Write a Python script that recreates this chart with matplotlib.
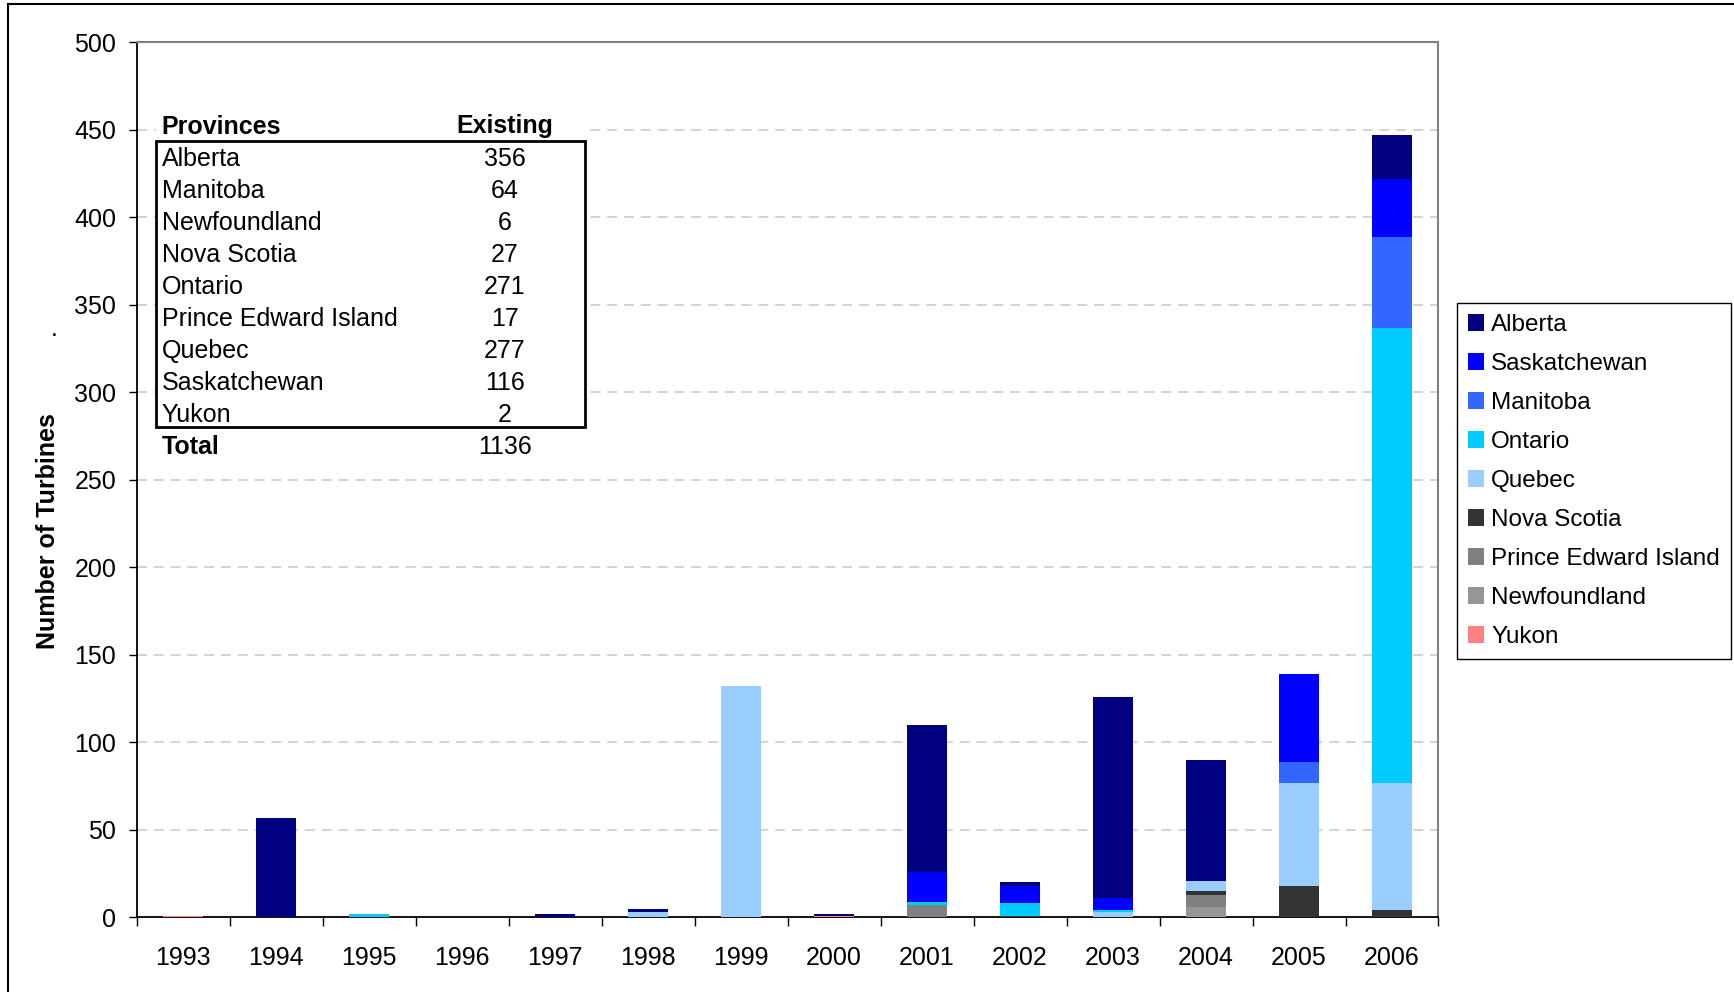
import matplotlib
matplotlib.use("Agg")
import matplotlib.pyplot as plt
from matplotlib.patches import Rectangle, Patch
from matplotlib.lines import Line2D
import numpy as np

# ---- data -----------------------------------------------------------------
years = [1993, 1994, 1995, 1996, 1997, 1998, 1999,
         2000, 2001, 2002, 2003, 2004, 2005, 2006]

# turbines installed per year, by province (stacked bottom -> top)
yukon        = [1, 0, 0, 0, 0, 0, 0,   1, 0,  0,  0,   0,  0,  0]
newfoundland = [0, 0, 0, 0, 0, 0, 0,   0, 0,  0,  0,   6,  0,  0]
pei          = [0, 0, 0, 0, 0, 0, 0,   0, 7,  0,  0,   7,  0,  0]
nova_scotia  = [0, 0, 0, 0, 0, 0, 0,   0, 0,  1,  0,   2, 18,  4]
quebec       = [0, 0, 0, 0, 0, 3, 132, 0, 0,  0,  3,   6, 59, 73]
ontario      = [0, 0, 2, 0, 0, 0, 0,   0, 2,  7,  1,   0,  0, 260]
manitoba     = [0, 0, 0, 0, 0, 0, 0,   0, 0,  0,  0,   0, 12, 52]
saskatchewan = [0, 0, 0, 0, 0, 0, 0,   0, 17, 10, 7,   0, 50, 33]
alberta      = [0, 57, 0, 0, 2, 2, 0,  1, 84, 2, 115, 69,  0, 25]

series_names = ["Yukon", "Newfoundland", "Prince Edward Island", "Nova Scotia",
                "Quebec", "Ontario", "Manitoba", "Saskatchewan", "Alberta"]
series_values = [yukon, newfoundland, pei, nova_scotia, quebec,
                 ontario, manitoba, saskatchewan, alberta]
series_colors = ["#FF8080", "#969696", "#808080", "#333333", "#99CCFF",
                 "#00CCFF", "#3366FF", "#0000FF", "#000080"]

legend_order = ["Alberta", "Saskatchewan", "Manitoba", "Ontario", "Quebec",
                "Nova Scotia", "Prince Edward Island", "Newfoundland", "Yukon"]

table_provinces = ["Alberta", "Manitoba", "Newfoundland", "Nova Scotia",
                   "Ontario", "Prince Edward Island", "Quebec",
                   "Saskatchewan", "Yukon"]
table_existing = [356, 64, 6, 27, 271, 17, 277, 116, 2]
table_total = 1136

y_ticks = list(range(0, 501, 50))

# ---- figure -----------------------------------------------------------------
plt.rcParams["font.family"] = ["Liberation Sans", "DejaVu Sans"]
FS = 18
FS_LEG = 17.5
W, H = 1734, 992
fig = plt.figure(figsize=(W / 100, H / 100), dpi=100)


def fx(px):
    return px / W


def fy(py):
    return 1 - py / H


ax = fig.add_axes([fx(136.7), fy(917.3), (1438.5 - 136.7) / W, 875.0 / H])

x = np.arange(len(years))
bottom = np.zeros(len(years))
for name, vals, col in zip(series_names, series_values, series_colors):
    v = np.array(vals, dtype=float)
    ax.bar(x, v, width=0.43, bottom=bottom, color=col, label=name,
           linewidth=0, zorder=3)
    bottom += v

ax.set_xlim(-0.5, len(years) - 0.5)
ax.set_ylim(0, 500)

# grid
for yv in y_ticks[1:-1]:
    ax.axhline(yv, color="#D0D0D0", lw=1.3, linestyle=(0, (5.5, 3.8)), zorder=1)

# spines
for s in ("left", "bottom"):
    ax.spines[s].set_color("#000000")
    ax.spines[s].set_linewidth(1.3)
for s in ("top", "right"):
    ax.spines[s].set_color("#808080")
    ax.spines[s].set_linewidth(1.5)
ax.spines["bottom"].set_zorder(2.5)

# y axis
ax.set_yticks(y_ticks)
ax.set_yticklabels([str(v) for v in y_ticks], fontsize=FS)
ax.tick_params(axis="y", direction="out", length=5.8, width=1.0, pad=9.0,
               colors="black")

# x axis: boundary ticks, centred labels
ax.set_xticks(np.arange(-0.5, len(years), 1.0))
ax.set_xticklabels([])
ax.set_xticks(x, minor=True)
ax.set_xticklabels([str(y) for y in years], minor=True, fontsize=FS)
ax.tick_params(axis="x", which="major", direction="out", length=6.2, width=1.0)
ax.tick_params(axis="x", which="minor", length=0, pad=20.5)

# axis title
fig.text(fx(48), fy(531), "Number of Turbines", rotation=90, fontsize=FS,
         fontweight="bold", ha="center", va="center")
fig.text(fx(54), fy(336), ".", fontsize=FS, ha="center", va="baseline")

# legend
handles = [Patch(facecolor=series_colors[series_names.index(n)], edgecolor="none")
           for n in legend_order]
leg = ax.legend(handles, legend_order, loc="upper left",
                bbox_to_anchor=(fx(1457), fy(303)), bbox_transform=fig.transFigure,
                frameon=True, fancybox=False, framealpha=1, edgecolor="black",
                fontsize=FS_LEG, handlelength=0.68, handleheight=0.68,
                handletextpad=0.27, labelspacing=0.70, borderpad=0.45,
                borderaxespad=0)
leg.get_frame().set_linewidth(1.0)

# provinces table
fig.add_artist(Rectangle((fx(156), fy(462)), (585 - 156) / W, (462 - 105) / H,
                         transform=fig.transFigure, facecolor="white",
                         edgecolor="none", zorder=4))
fig.add_artist(Rectangle((fx(156), fy(426.7)), (585 - 156) / W, (426.7 - 140.7) / H,
                         transform=fig.transFigure, facecolor="none",
                         edgecolor="black", linewidth=2.0, zorder=6))
fig.text(fx(161.5), fy(126.5), "Provinces", fontsize=FS, fontweight="bold",
         ha="left", va="center", zorder=7)
fig.text(fx(505), fy(126.5), "Existing", fontsize=FS, fontweight="bold",
         ha="center", va="center", zorder=7)
for i, (prov, n) in enumerate(zip(table_provinces, table_existing)):
    yy = 159 + 32 * i
    fig.text(fx(161.5), fy(yy), prov, fontsize=FS, ha="left", va="center", zorder=7)
    fig.text(fx(505), fy(yy), str(n), fontsize=FS, ha="center", va="center", zorder=7)
fig.text(fx(161.5), fy(446.5), "Total", fontsize=FS, fontweight="bold",
         ha="left", va="center", zorder=7)
fig.text(fx(505), fy(446.5), str(table_total), fontsize=FS, ha="center",
         va="center", zorder=7)

# chart-area frame
fig.add_artist(Line2D([fx(7.7), 1.0], [fy(4), fy(4)], transform=fig.transFigure,
                      color="black", lw=1.5))
fig.add_artist(Line2D([fx(7.7), fx(7.7)], [0.0, fy(4)], transform=fig.transFigure,
                      color="black", lw=1.5))

fig.savefig("out.png", dpi=100)
